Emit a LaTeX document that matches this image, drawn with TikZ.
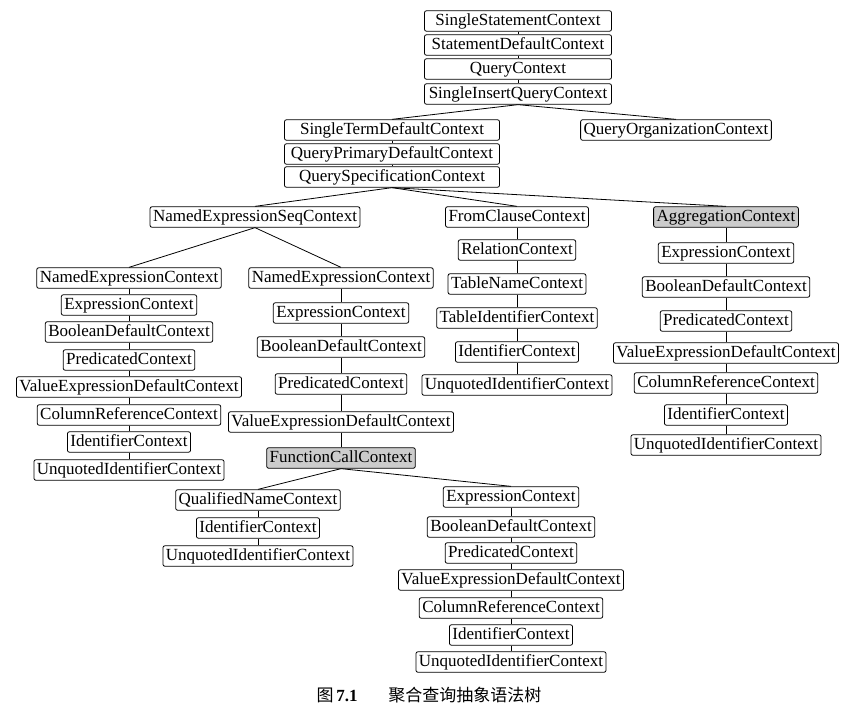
\documentclass[tikz,border=0pt]{standalone}
\usepackage{fontspec}
\setmainfont{Liberation Serif}
\newfontfamily\cjk{Noto Sans CJK SC}
\usetikzlibrary{calc}

\tikzset{
  ctx/.style={draw, rounded corners=2pt, line width=0.8pt, fill=white,
    inner xsep=3pt, inner ysep=2.5pt, text height=12pt, text depth=3.5pt,
    font=\fontsize{17}{17}\selectfont},
  hit/.style={fill=gray!40},
  nohit/.style={},
  link/.style={line width=0.8pt},
}

\begin{document}
\begin{tikzpicture}[x=1pt,y=-1pt]
\useasboundingbox (0,0) rectangle (855,715);
% top chains
\foreach \yy/\txt [count=\i] in {21/SingleStatementContext,45/StatementDefaultContext,
    69/QueryContext,94/SingleInsertQueryContext}
  {\node[ctx,minimum width=187pt] (T\i) at (518,\yy) {\txt};}
\foreach \yy/\txt [count=\i] in {130/SingleTermDefaultContext,154/QueryPrimaryDefaultContext,
    177/QuerySpecificationContext}
  {\node[ctx,minimum width=215pt] (S\i) at (392,\yy) {\txt};}
\node[ctx] (qorg) at (676,130) {QueryOrganizationContext};
\node[ctx] (nseq) at (255,217) {NamedExpressionSeqContext};

% from clause / aggregation
\foreach \yy/\txt [count=\i] in {217/FromClauseContext,250/RelationContext,284/TableNameContext,
    318/TableIdentifierContext,352/IdentifierContext,385/UnquotedIdentifierContext}
  {\node[ctx] (F\i) at (517,\yy) {\txt};}
\foreach \yy/\txt/\sty [count=\i] in {217/AggregationContext/hit,253/ExpressionContext/nohit,
    287/BooleanDefaultContext/nohit,321/PredicatedContext/nohit,
    353/ValueExpressionDefaultContext/nohit,383/ColumnReferenceContext/nohit,
    415/IdentifierContext/nohit,445/UnquotedIdentifierContext/nohit}
  {\node[ctx,\sty] (A\i) at (726,\yy) {\txt};}

% named expressions
\foreach \yy/\txt [count=\i] in {278/NamedExpressionContext,305/ExpressionContext,
    332/BooleanDefaultContext,360/PredicatedContext,387/ValueExpressionDefaultContext,
    415/ColumnReferenceContext,442/IdentifierContext,470/UnquotedIdentifierContext}
  {\node[ctx] (L\i) at (129,\yy) {\txt};}
\foreach \yy/\txt/\sty [count=\i] in {278/NamedExpressionContext/nohit,313/ExpressionContext/nohit,
    347/BooleanDefaultContext/nohit,384/PredicatedContext/nohit,
    422/ValueExpressionDefaultContext/nohit,458/FunctionCallContext/hit}
  {\node[ctx,\sty] (M\i) at (341,\yy) {\txt};}

% function call arguments
\foreach \yy/\txt [count=\i] in {500/QualifiedNameContext,528/IdentifierContext,
    556/UnquotedIdentifierContext}
  {\node[ctx] (Q\i) at (258,\yy) {\txt};}
\foreach \yy/\txt [count=\i] in {497/ExpressionContext,527/BooleanDefaultContext,
    553/PredicatedContext,580/ValueExpressionDefaultContext,608/ColumnReferenceContext,
    635/IdentifierContext,662/UnquotedIdentifierContext}
  {\node[ctx] (E\i) at (511,\yy) {\txt};}

% chain links
\foreach \c/\n in {T/4,S/3,F/6,A/8,L/8,M/6,Q/3,E/7}
  {\foreach \i in {2,...,\n}
    {\pgfmathtruncatemacro\k{\i-1}
     \draw[link] (\c\k) -- (\c\i);}}

% branches
\draw[link] (T4.south) -- (S1.north);
\draw[link] (T4.south) -- (qorg.north);
\foreach \kid in {nseq,F1,A1}{\draw[link] (S3.south) -- (\kid.north);}
\foreach \kid in {L1,M1}{\draw[link] (nseq.south) -- (\kid.north);}
\foreach \kid in {Q1,E1}{\draw[link] (M6.south) -- (\kid.north);}

\node (cap) at (429,695) {\fontsize{17}{17}\selectfont{\cjk 图}\,\textbf{7.1}\hspace{1.8em}{\cjk 聚合查询抽象语法树}};
\end{tikzpicture}
\end{document}
